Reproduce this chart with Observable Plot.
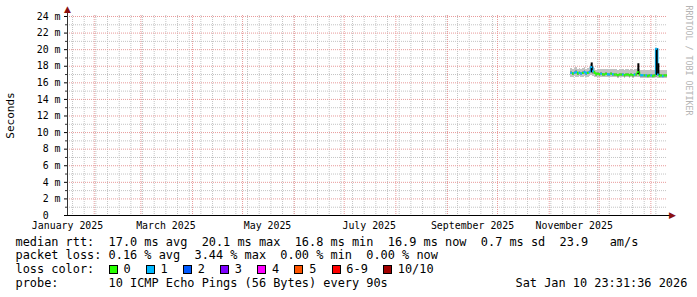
<!DOCTYPE html>
<html>
<head>
<meta charset="utf-8">
<script src="https://cdn.jsdelivr.net/npm/d3@7"></script>
<script src="https://cdn.jsdelivr.net/npm/@observablehq/plot@0.6"></script>
<style>
html, body { margin: 0; padding: 0; background: #fff; }
#wrap { position: relative; width: 697px; height: 297px; overflow: hidden; font-family: "DejaVu Sans Mono", monospace; background: #fff; }
#chart { position: absolute; left: 0; top: 0; }
.line { position: absolute; left: 15.5px; font-size: 11.9px; line-height: 14px; white-space: pre; color: #000; }
.legend { position: absolute; left: 108.6px; display: flex; align-items: center; height: 14px; font-size: 11.9px; white-space: pre; }
.item { display: flex; align-items: center; }
.box { box-sizing: border-box; width: 9px; height: 9px; border: 1px solid #000; }
.lbl { margin-left: 5.8px; margin-right: 15.2px; line-height: 14px; }
</style>
</head>
<body>
<div id="wrap">
  <div id="chart"></div>
</div>
<script>
// ---------- data ----------
const days = [
  "2025-11-14","2025-11-15","2025-11-16","2025-11-17","2025-11-18","2025-11-19","2025-11-20","2025-11-21","2025-11-22","2025-11-23",
  "2025-11-24","2025-11-25","2025-11-26","2025-11-27","2025-11-28","2025-11-29","2025-11-30",
  "2025-12-01","2025-12-02","2025-12-03","2025-12-04","2025-12-05","2025-12-06","2025-12-07","2025-12-08","2025-12-09","2025-12-10",
  "2025-12-11","2025-12-12","2025-12-13","2025-12-14","2025-12-15","2025-12-16","2025-12-17","2025-12-18","2025-12-19","2025-12-20",
  "2025-12-21","2025-12-22","2025-12-23","2025-12-24","2025-12-25","2025-12-26","2025-12-27","2025-12-28","2025-12-29","2025-12-30","2025-12-31",
  "2026-01-01","2026-01-02","2026-01-03","2026-01-04","2026-01-05","2026-01-06","2026-01-07","2026-01-08","2026-01-09","2026-01-10"
];
// median rtt in ms
const medianMs = [
  17.2,17.1,17.2,17.3,17.1,17.2,17.1,17.2,17.3,17.1,17.2,17.3,17.9,17.4,17.2,17.0,17.1,
  17.0,17.1,17.0,17.0,17.1,17.0,17.0,17.1,17.0,17.0,17.0,16.9,17.0,17.0,17.0,16.9,17.0,17.0,16.9,17.0,
  16.9,17.0,17.0,17.3,17.0,16.9,16.9,16.9,16.9,16.8,16.9,
  16.9,16.8,16.9,20.1,17.0,16.8,16.9,16.8,16.9,16.9
];
// lost pings (of 10)
const lossCount = [
  1,0,1,1,0,1,1,0,1,1,0,1,1,1,0,0,0,
  0,1,0,0,0,1,1,0,1,0,0,0,0,0,1,0,0,0,0,0,
  0,1,0,0,0,1,1,0,1,0,0,
  1,0,0,1,1,0,0,1,0,0
];
// outer smoke (ms)
const smokeLoMs = [
  16.7,16.7,16.8,16.7,16.7,16.8,16.7,16.7,16.8,16.7,16.7,16.8,16.9,16.8,16.7,16.6,16.7,
  16.6,16.7,16.6,16.6,16.7,16.6,16.6,16.7,16.6,16.6,16.6,16.5,16.6,16.6,16.6,16.5,16.6,16.6,16.5,16.6,
  16.5,16.6,16.6,16.7,16.6,16.5,16.5,16.5,16.5,16.5,16.5,
  16.5,16.5,16.5,16.6,16.5,16.5,16.5,16.5,16.5,16.5
];
const smokeHiMs = [
  17.7,17.6,17.7,17.8,17.6,17.7,17.6,17.7,17.8,17.6,17.7,17.8,18.2,17.9,17.7,17.5,17.6,
  17.6,17.6,17.6,17.6,17.6,17.6,17.6,17.6,17.6,17.6,17.6,17.5,17.6,17.6,17.6,17.5,17.6,17.6,17.5,17.6,
  17.5,17.6,17.6,17.7,17.6,17.5,17.5,17.5,17.5,17.5,17.5,
  17.5,17.5,17.5,17.6,17.6,17.5,17.5,17.5,17.5,17.5
];
// inner (denser) smoke (ms)
const innerLoMs = [
  16.95,16.85,16.95,17.0,16.85,16.95,16.85,16.95,17.0,16.85,16.95,17.0,17.2,17.05,16.95,16.8,16.85,
  16.8,16.85,16.8,16.8,16.85,16.8,16.8,16.85,16.8,16.8,16.8,16.7,16.8,16.8,16.8,16.7,16.8,16.8,16.7,16.8,
  16.7,16.8,16.8,16.85,16.8,16.7,16.7,16.7,16.7,16.6,16.7,
  16.7,16.6,16.7,16.7,16.75,16.6,16.7,16.6,16.7,16.7
];
const innerHiMs = [
  17.35,17.25,17.35,17.45,17.25,17.35,17.25,17.35,17.45,17.25,17.35,17.45,17.7,17.5,17.35,17.15,17.25,
  17.15,17.25,17.15,17.15,17.25,17.15,17.15,17.25,17.15,17.15,17.15,17.05,17.15,17.15,17.15,17.05,17.15,17.15,17.05,17.15,
  17.05,17.15,17.15,17.4,17.15,17.05,17.05,17.05,17.05,16.95,17.05,
  17.05,16.95,17.05,17.2,17.15,16.95,17.05,16.95,17.05,17.05
];
// dark spikes in the smoke
const spikeDays = ["2025-11-26","2025-12-24","2026-01-04","2026-01-05"];
const spikeBaseMs = [17.2, 17.0, 16.9, 16.9];
const spikeTopMs = [18.4, 18.3, 20.1, 18.3];

// axes
const xStartStr = "2025-01-15T23:31:36Z";
const xEndStr = "2026-01-10T23:31:36Z";
const xLabelDates = ["2025-01-16","2025-03-16","2025-05-16","2025-07-16","2025-09-16","2025-11-16"];
const xLabels = ["January 2025","March 2025","May 2025","July 2025","September 2025","November 2025"];
const yTicks = [0,2,4,6,8,10,12,14,16,18,20,22,24];
const yMinor = [1,3,5,7,9,11,13,15,17,19,21,23];
const yTop = 24.12;

// legend
const lossLabels = ["0","1","2","3","4","5","6-9","10/10"];
const lossColors = ["#26ff00","#00b8ff","#0059ff","#7e00ff","#ff00ff","#ff5500","#ff0000","#a10000"];
const rttStats = ["17.0 ms avg","20.1 ms max","16.8 ms min","16.9 ms now","0.7 ms sd","23.9   am/s"];
const lossStats = ["0.16 % avg","3.44 % max","0.00 % min","0.00 % now"];
const probeText = "10 ICMP Echo Pings (56 Bytes) every 90s";
const stampText = "Sat Jan 10 23:31:36 2026";

// ---------- build ----------
const xStart = new Date(xStartStr), xEnd = new Date(xEndStr);
const lossIdx = l => l >= 10 ? 7 : l >= 6 ? 6 : l;
const rows = days.map((s, i) => {
  const date = new Date(s + "T00:00:00Z");
  return {
    date, end: d3.utcDay.offset(date, 1),
    median: medianMs[i], color: lossColors[lossIdx(lossCount[i])],
    lo: smokeLoMs[i], hi: smokeHiMs[i], ilo: innerLoMs[i], ihi: innerHiMs[i],
    prev: i > 0 ? medianMs[i - 1] : medianMs[i]
  };
});
const spikes = spikeDays.map((s, i) => ({
  x: d3.utcHour.offset(new Date(s + "T00:00:00Z"), 12), y1: spikeBaseMs[i], y2: spikeTopMs[i]
}));
const labelDates = xLabelDates.map(s => new Date(s + "T00:00:00Z"));
const labelMap = new Map(labelDates.map((d, i) => [d.getTime(), xLabels[i]]));
const weeks = d3.utcSunday.range(xStart, xEnd);
const months = d3.utcMonth.range(xStart, xEnd);

const minorStroke = "#c4c4c4", majorStroke = "#e89a9a";

const chart = Plot.plot({
  width: 697, height: 232,
  marginLeft: 67, marginRight: 30, marginTop: 15, marginBottom: 17,
  style: { fontFamily: '"DejaVu Sans Mono", monospace', fontSize: "9.9px", background: "transparent", color: "#000", overflow: "visible" },
  x: { type: "utc", domain: [xStart, xEnd], ticks: labelDates, tickFormat: d => labelMap.get(+d) || "", tickSize: 0, tickPadding: 6, label: null },
  y: { domain: [0, yTop], ticks: yTicks, tickFormat: d => d === 0 ? "0\u00a0\u00a0" : `${d} m`, tickSize: 3, tickPadding: 4, label: null },
  color: { type: "identity" },
  marks: [
    // grid
    Plot.ruleY(yMinor, { stroke: minorStroke, strokeDasharray: "1,1" }),
    Plot.ruleX(weeks, { stroke: minorStroke, strokeDasharray: "1,1" }),
    Plot.ruleY(yTicks.filter(d => d > 0), { stroke: majorStroke, strokeDasharray: "1,1" }),
    Plot.ruleX(months, { stroke: majorStroke, strokeDasharray: "1,1" }),
    // minor ticks on y axis
    Plot.ruleY(yMinor, { x1: () => xStart, x2: () => xStart, insetLeft: -2, stroke: "#333" }),
    // smoke
    Plot.rect(rows, { x1: "date", x2: "end", y1: "lo", y2: "hi", fill: "#c2c2c2", shapeRendering: "crispEdges" }),
    Plot.rect(rows, { x1: "date", x2: "end", y1: "ilo", y2: "ihi", fill: "#9c9c9c", shapeRendering: "crispEdges" }),
    // median connectors
    Plot.ruleX(rows.slice(1), { x: "date", y1: "prev", y2: "median", stroke: "color", strokeWidth: 2 }),
    // dark spikes
    Plot.ruleX(spikes, { x: "x", y1: "y1", y2: "y2", stroke: "#000", strokeWidth: 2 }),
    // median segments colored by loss
    Plot.ruleY(rows, { y: "median", x1: "date", x2: "end", stroke: "color", strokeWidth: 2 }),
    // axes lines
    Plot.ruleX([xStart], { stroke: "#333", insetTop: -4 }),
    Plot.ruleY([0], { stroke: "#000", insetLeft: -3, insetRight: -3 }),
    // arrows
    Plot.text(["\u25B2"], { frameAnchor: "top-left", dy: -6, fill: "#8b1010", fontSize: 9, textAnchor: "middle", lineAnchor: "middle", fontFamily: "DejaVu Sans" }),
    Plot.text(["\u25B6"], { frameAnchor: "bottom-right", dx: 5, fill: "#8b1010", fontSize: 9, textAnchor: "middle", lineAnchor: "middle", fontFamily: "DejaVu Sans" }),
    // axis title
    Plot.text(["Seconds"], { frameAnchor: "left", dx: -57, rotate: -90, fontSize: 11, textAnchor: "middle", lineAnchor: "middle" }),
    // watermark
    Plot.text(["RRDTOOL / TOBI OETIKER"], { frameAnchor: "top-right", dx: 21, dy: -10, rotate: 90, textAnchor: "start", lineAnchor: "middle", fontSize: 8.3, fill: "#b4b4b4" })
  ]
});
document.getElementById("chart").appendChild(chart);

// ---------- text below ----------
const wrap = document.getElementById("wrap");
const lineTops = [234.6, 248.3, 262.0, 275.6];
function addLine(text, top, left) {
  const d = document.createElement("div");
  d.className = "line";
  d.style.top = top + "px";
  if (left != null) d.style.left = left + "px";
  d.textContent = text;
  wrap.appendChild(d);
}
addLine("median rtt:  " + rttStats.join("  "), lineTops[0]);
addLine("packet loss: " + lossStats.join("  "), lineTops[1]);
addLine("loss color:", lineTops[2]);
const leg = document.createElement("div");
leg.className = "legend";
leg.style.top = lineTops[2] + "px";
lossLabels.forEach((l, i) => {
  const it = document.createElement("div"); it.className = "item";
  const b = document.createElement("div"); b.className = "box"; b.style.background = lossColors[i];
  const t = document.createElement("span"); t.className = "lbl"; t.textContent = l;
  it.appendChild(b); it.appendChild(t); leg.appendChild(it);
});
wrap.appendChild(leg);
addLine("probe:       " + probeText, lineTops[3]);
addLine(stampText, lineTops[3], 515.5);
</script>
</body>
</html>
